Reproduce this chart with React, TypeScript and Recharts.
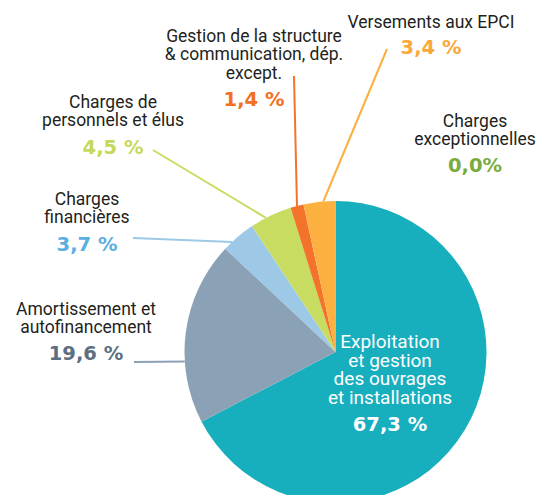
import { PieChart, Pie, Cell } from "recharts";

const categories = [
  "Exploitation et gestion des ouvrages et installations",
  "Amortissement et autofinancement",
  "Charges financières",
  "Charges de personnels et élus",
  "Gestion de la structure & communication, dép. except.",
  "Versements aux EPCI",
  "Charges exceptionnelles",
];
const shares = [67.3, 19.6, 3.7, 4.5, 1.4, 3.4, 0.0];
const shareLabels = ["67,3 %", "19,6 %", "3,7 %", "4,5 %", "1,4 %", "3,4 %", "0,0%"];
const sliceColors = ["#17aebd", "#8ba2b6", "#9dc8e6", "#c9dc62", "#f4732a", "#fbb040", "#7aab3e"];
const labelColors = ["#ffffff", "#5b6f81", "#5aaee0", "#c5d95a", "#f36f21", "#f9a83a", "#7aab3e"];

// label layout: text lines, center x, baselines, percent baseline, leader end
const labelLayout = [
  { lines: ["Exploitation", "et gestion", "des ouvrages", "et installations"], x: 390, y: 348, py: 431, line: null, angleShift: 0 },
  { lines: ["Amortissement et", "autofinancement"], x: 86, y: 315, py: 360, line: [134, 362], angleShift: 11.4 },
  { lines: ["Charges", "financières"], x: 87, y: 205, py: 251, line: [133, 238], angleShift: 3 },
  { lines: ["Charges de", "personnels et élus"], x: 113, y: 108, py: 154, line: [153, 150], angleShift: 2 },
  { lines: ["Gestion de la structure", "& communication, dép.", "except."], x: 254, y: 42, py: 106, line: [294, 76], angleShift: 0 },
  { lines: ["Versements aux EPCI"], x: 431, y: 28, py: 54, line: [387, 49], angleShift: -1.5 },
  { lines: ["Charges", "exceptionnelles"], x: 475, y: 127, py: 172, line: null, angleShift: 0 },
];

const data = categories.map((name, i) => ({ name, value: shares[i] }));

const RAD = Math.PI / 180;
const font = "Roboto, 'Noto Sans', sans-serif";
const pctFont = "'DejaVu Sans', sans-serif";

function renderLabel(props: any) {
  const { cx, cy, midAngle, outerRadius, index } = props;
  const l = labelLayout[index];
  if (!l) return null;
  const inside = index === 0;
  const a = (midAngle + l.angleShift) * RAD;
  const ex = cx + outerRadius * Math.cos(a);
  const ey = cy - outerRadius * Math.sin(a);
  return (
    <g key={`lbl-${index}`}>
      {l.line && (
        <line x1={l.line[0]} y1={l.line[1]} x2={ex} y2={ey} stroke={sliceColors[index]} strokeWidth={2} />
      )}
      <text
        x={l.x}
        y={l.y}
        textAnchor="middle"
        fontFamily={font}
        fontSize={inside ? 19 : 17.5}
        fill={inside ? "#ffffff" : "#231f20"}
      >
        {l.lines.map((t, k) => (
          <tspan key={k} x={l.x} dy={k === 0 ? 0 : inside ? 18.5 : 18.3}>
            {t}
          </tspan>
        ))}
      </text>
      <text x={l.x} y={l.py} textAnchor="middle" fontFamily={pctFont} fontSize={19.5} fontWeight={700} fill={labelColors[index]}>
        {shareLabels[index]}
      </text>
    </g>
  );
}

export default function App() {
  return (
    <div style={{ position: "absolute", left: 0, top: 0, width: 542, height: 495, background: "#fff" }}>
      <PieChart width={542} height={495} margin={{ top: 0, right: 0, bottom: 0, left: 0 }}>
        <Pie
          data={data}
          dataKey="value"
          nameKey="name"
          cx={335.5}
          cy={352}
          outerRadius={151}
          startAngle={90}
          endAngle={-270}
          stroke="none"
          label={renderLabel}
          labelLine={false}
          isAnimationActive={false}
        >
          {data.map((d, i) => (
            <Cell key={d.name} fill={sliceColors[i]} />
          ))}
        </Pie>
      </PieChart>
    </div>
  );
}
